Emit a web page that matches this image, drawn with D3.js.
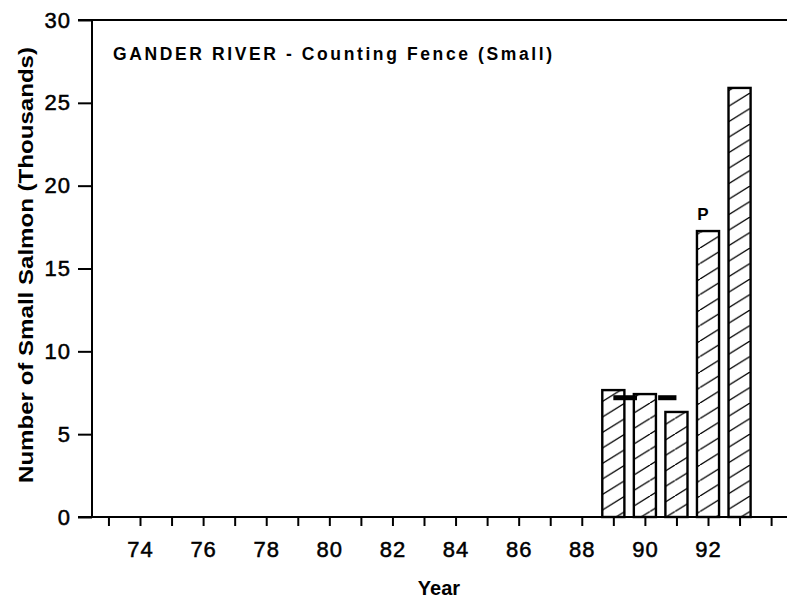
<!DOCTYPE html>
<html>
<head>
<meta charset="utf-8">
<script src="https://cdn.jsdelivr.net/npm/d3@7/dist/d3.min.js"></script>
<style>
  body { margin: 0; background: #fff; }
  text { font-family: "Liberation Sans", Arial, Helvetica, sans-serif; fill: #000; }
</style>
</head>
<body>
<div id="chart"></div>
<script>
// data
var years = [89, 90, 91, 92, 93];
var counts = [7.66, 7.42, 6.34, 17.26, 25.9];

// short black dashes (mean lines) drawn over the bars
var meanStart = [89.0, 90.42];
var meanEnd = [89.75, 91.0];
var meanValue = [7.2, 7.2];

var noteYear = [92];
var noteText = ["P"];

var yTicks = [0, 5, 10, 15, 20, 25, 30];
var xMinor = d3.range(73, 95);
var xLabels = [74, 76, 78, 80, 82, 84, 86, 88, 90, 92];

var width = 787, height = 598;

var svg = d3.select("#chart")
    .append("svg")
    .attr("width", width)
    .attr("height", height);

// scales
var x = d3.scaleLinear()
    .domain([74, 92])
    .range([140, 708]);

var y = d3.scaleLinear()
    .domain([0, 30])
    .range([517, 20]);

var barW = x(89.7) - x(89);

// hatch pattern
var pat = svg.append("defs").append("pattern")
    .attr("id", "hatch")
    .attr("patternUnits", "userSpaceOnUse")
    .attr("width", 25)
    .attr("height", 15.5);
pat.append("path")
    .attr("d", "M0,15.5 L25,0 M-25,15.5 L0,0 M25,15.5 L50,0")
    .attr("stroke", "#000")
    .attr("stroke-width", 1.3);

// bars
svg.append("g")
    .selectAll("rect")
    .data(years)
    .enter()
    .append("rect")
    .attr("x", function (d) { return x(d) - barW / 2; })
    .attr("y", function (d, i) { return y(counts[i]); })
    .attr("width", barW)
    .attr("height", function (d, i) { return y(0) - y(counts[i]); })
    .attr("fill", "url(#hatch)")
    .attr("stroke", "#000")
    .attr("stroke-width", 2.4);

// mean dashes
svg.append("g")
    .selectAll("line")
    .data(meanStart)
    .enter()
    .append("line")
    .attr("x1", function (d) { return x(d); })
    .attr("x2", function (d, i) { return x(meanEnd[i]); })
    .attr("y1", function (d, i) { return y(meanValue[i]); })
    .attr("y2", function (d, i) { return y(meanValue[i]); })
    .attr("stroke", "#000")
    .attr("stroke-width", 5);

// "P" note
svg.append("g")
    .selectAll("text")
    .data(noteYear)
    .enter()
    .append("text")
    .attr("x", function (d) { return x(d) - 5; })
    .attr("y", function (d) { return y(counts[years.indexOf(d)]) - 11; })
    .attr("text-anchor", "middle")
    .style("font-size", "17px")
    .style("font-weight", "bold")
    .text(function (d, i) { return noteText[i]; });

// Y axis
var yAxis = svg.append("g")
    .attr("transform", "translate(92,0)")
    .call(d3.axisLeft(y).tickValues(yTicks).tickSize(14).tickSizeOuter(0).tickPadding(7));
yAxis.select(".domain").remove();
yAxis.selectAll("line").attr("stroke", "#000").attr("stroke-width", 2);
yAxis.selectAll("text")
    .style("font-size", "22px")
    .style("letter-spacing", "1px")
    .attr("fill", "#000")
    .attr("stroke", "#000")
    .attr("stroke-width", 0.5);

// X axis
var xAxis = svg.append("g")
    .attr("transform", "translate(0,517)")
    .call(d3.axisBottom(x).tickValues(xMinor).tickSize(9).tickSizeOuter(0)
        .tickFormat(function (d) { return xLabels.indexOf(d) >= 0 ? d : ""; })
        .tickPadding(15));
xAxis.select(".domain").remove();
xAxis.selectAll("line").attr("stroke", "#000").attr("stroke-width", 2);
xAxis.selectAll("text")
    .style("font-size", "22px")
    .style("letter-spacing", "1px")
    .attr("fill", "#000")
    .attr("stroke", "#000")
    .attr("stroke-width", 0.5);

// frame lines
svg.append("line")
    .attr("x1", 92).attr("x2", 92)
    .attr("y1", y(30)).attr("y2", y(0))
    .attr("stroke", "#000").attr("stroke-width", 2);
svg.append("line")
    .attr("x1", 78).attr("x2", width)
    .attr("y1", y(0)).attr("y2", y(0))
    .attr("stroke", "#000").attr("stroke-width", 2);
svg.append("line")
    .attr("x1", 78).attr("x2", width)
    .attr("y1", y(30)).attr("y2", y(30))
    .attr("stroke", "#000").attr("stroke-width", 2);

// title
svg.append("text")
    .attr("x", 113)
    .attr("y", 60)
    .attr("textLength", 439)
    .attr("lengthAdjust", "spacing")
    .style("font-size", "17.5px")
    .style("font-weight", "bold")
    .text("GANDER RIVER - Counting Fence (Small)");

// axis titles
svg.append("text")
    .attr("x", 439)
    .attr("y", 595)
    .attr("text-anchor", "middle")
    .style("font-size", "20px")
    .style("font-weight", "bold")
    .text("Year");

svg.append("text")
    .attr("transform", "translate(33,265) rotate(-90)")
    .attr("text-anchor", "middle")
    .attr("textLength", 436)
    .attr("lengthAdjust", "spacingAndGlyphs")
    .style("font-size", "20.5px")
    .style("font-weight", "bold")
    .text("Number of Small Salmon (Thousands)");
</script>
</body>
</html>
